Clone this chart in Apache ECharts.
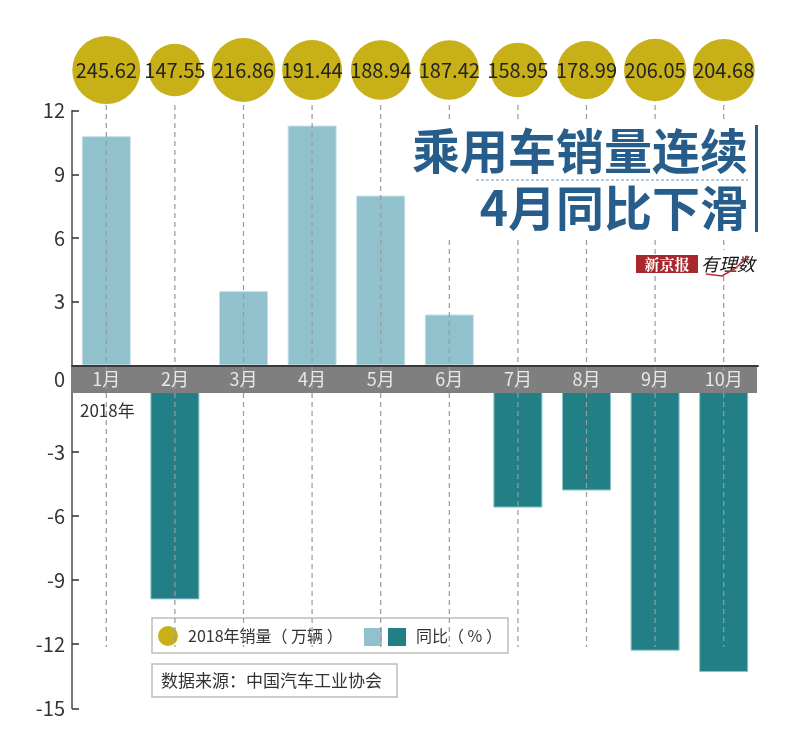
<!DOCTYPE html>
<html>
<head>
<meta charset="utf-8">
<title>乘用车销量连续4月同比下滑</title>
<script src="https://cdn.jsdelivr.net/npm/echarts@6/dist/echarts.min.js"></script>
<style>
  html, body { margin: 0; padding: 0; background: #fff; }
  #myChart { width: 800px; height: 754px; }
</style>
</head>
<body>
<div id="myChart"></div>
<script>
// 月份
var months = ['1月', '2月', '3月', '4月', '5月', '6月', '7月', '8月', '9月', '10月'];
// 2018年销量（万辆）
var sales = [245.62, 147.55, 216.86, 191.44, 188.94, 187.42, 158.95, 178.99, 206.05, 204.68];
// 同比（%）
var yoy = [10.8, -9.9, 3.5, 11.3, 8.0, 2.4, -5.6, -4.8, -12.3, -13.3];
// 刻度
var upTicks = [0, 12, 3];
var downTicks = [-15, 0, 3];

var cnFont = '"Noto Sans CJK SC", "Noto Sans", sans-serif';
var titleColor = '#275d8b';

var upData = yoy.map(function (v) { return v > 0 ? v : '-'; });
var downData = yoy.map(function (v) { return v < 0 ? v : '-'; });

var myChart = echarts.init(document.getElementById('myChart'));

var option = {
  animation: false,
  textStyle: { fontFamily: cnFont },
  grid: [
    { left: 72, right: 42, top: 110.7, height: 254.7 },   // 正值
    { left: 72, right: 42, top: 388, height: 320.3 },     // 负值
    { left: 72, right: 42, top: 30, height: 80 },         // 圆圈
    { left: 72, right: 42, top: 105, height: 542 }        // 虚线
  ],
  xAxis: [
    {
      gridIndex: 0, type: 'category', data: months, z: 10,
      axisLine: { lineStyle: { color: '#3a3a3a', width: 2 } },
      axisTick: { show: false },
      axisLabel: { color: '#e8e8e8', fontSize: 18, margin: 5, fontFamily: cnFont }
    },
    { gridIndex: 1, type: 'category', data: months, show: false },
    { gridIndex: 2, type: 'category', data: months, show: false },
    { gridIndex: 3, type: 'category', data: months, show: false }
  ],
  yAxis: [
    {
      gridIndex: 0, type: 'value', min: upTicks[0], max: upTicks[1], interval: upTicks[2],
      splitLine: { show: false },
      axisLine: { show: true, lineStyle: { color: '#777', width: 2 } },
      axisTick: { show: true, inside: true, length: 7, lineStyle: { color: '#333', width: 1.5 } },
      axisLabel: {
        color: '#333', fontSize: 20, margin: 7,
        formatter: function (v) { return v === 0 ? '' : String(v); }
      }
    },
    {
      gridIndex: 1, type: 'value', min: downTicks[0], max: downTicks[1], interval: downTicks[2],
      splitLine: { show: false },
      axisLine: { show: true, lineStyle: { color: '#777', width: 2 } },
      axisTick: { show: true, inside: true, length: 7, lineStyle: { color: '#333', width: 1.5 } },
      axisLabel: {
        color: '#333', fontSize: 20, margin: 7,
        formatter: function (v) { return v === 0 ? '{z|0}' : String(v); },
        rich: { z: { fontSize: 20, color: '#333', padding: [0, 0, 17, 0] } }
      }
    },
    { gridIndex: 2, type: 'value', min: -1, max: 1, show: false },
    { gridIndex: 3, type: 'value', min: 0, max: 1, show: false }
  ],
  series: [
    {
      name: '同比正', type: 'bar', xAxisIndex: 0, yAxisIndex: 0,
      data: upData, barWidth: 49,
      itemStyle: { color: '#92c1ce', borderColor: '#c6e0e7', borderWidth: 1 }
    },
    {
      name: '同比负', type: 'bar', xAxisIndex: 1, yAxisIndex: 1,
      data: downData, barWidth: 49,
      itemStyle: { color: '#227f85', borderColor: '#8cc3c6', borderWidth: 1 }
    },
    {
      name: '2018年销量（万辆）', type: 'scatter', xAxisIndex: 2, yAxisIndex: 2, z: 8,
      data: sales.map(function (v, i) { return [months[i], 0, v]; }),
      symbolSize: function (d) { return 4.34 * Math.sqrt(d[2]); },
      itemStyle: { color: '#c8b018', opacity: 1 },
      label: {
        show: true, position: 'inside', color: '#222', fontSize: 20,
        fontFamily: cnFont,
        formatter: function (p) { return p.data[2].toFixed(2); }
      }
    },
    {
      name: '虚线', type: 'custom', xAxisIndex: 3, yAxisIndex: 3, z: 6, silent: true,
      data: months.map(function (m, i) { return [i]; }),
      renderItem: function (params, api) {
        var top = api.coord([api.value(0), 1]);
        var bot = api.coord([api.value(0), 0]);
        return {
          type: 'line',
          shape: { x1: top[0], y1: top[1], x2: bot[0], y2: bot[1] },
          style: { stroke: '#9a9a9a', lineWidth: 1.2, lineDash: [5, 4] }
        };
      }
    }
  ],
  graphic: [
    // 0 轴灰条
    { type: 'rect', z: 4, shape: { x: 71, y: 366, width: 686, height: 27 }, style: { fill: '#7f7f7f' } },
    { type: 'text', z: 4, left: 80, top: 402, style: { text: '2018年', fill: '#333', font: '17px ' + cnFont } },
    // 标题
    { type: 'rect', z: 20, shape: { x: 408, y: 121, width: 354, height: 116 }, style: { fill: '#fff' } },
    { type: 'text', z: 21, style: { x: 748, y: 151, text: '乘用车销量连续', textAlign: 'right', textVerticalAlign: 'middle', fill: titleColor, font: 'bold 48px ' + cnFont } },
    { type: 'text', z: 21, style: { x: 748, y: 208, text: '4月同比下滑', textAlign: 'right', textVerticalAlign: 'middle', fill: titleColor, font: 'bold 48px ' + cnFont } },
    { type: 'line', z: 21, shape: { x1: 476, y1: 180, x2: 748, y2: 180 }, style: { stroke: '#6f93b3', lineWidth: 1, lineDash: [3, 2] } },
    { type: 'rect', z: 21, shape: { x: 755, y: 125, width: 3, height: 107 }, style: { fill: titleColor } },
    // 新京报 有理数
    { type: 'rect', z: 21, shape: { x: 636, y: 255, width: 62, height: 18 }, style: { fill: '#a8282d' } },
    { type: 'text', z: 22, style: { x: 667, y: 264, text: '新京报', textAlign: 'center', textVerticalAlign: 'middle', fill: '#fff', font: 'bold 15px "Noto Serif CJK SC", ' + cnFont } },
    { type: 'rect', z: 21, shape: { x: 699, y: 250, width: 60, height: 26 }, style: { fill: '#fff' } },
    { type: 'text', z: 22, style: { x: 701, y: 264, text: '有理数', textVerticalAlign: 'middle', fill: '#111', font: 'italic 18px ' + cnFont } },
    { type: 'polyline', z: 23, shape: { points: [[706, 274], [722, 276], [736, 268], [748, 256]] }, style: { stroke: '#c0282d', lineWidth: 1.5, fill: null } },
    // 图例
    { type: 'rect', z: 3, shape: { x: 152, y: 618, width: 356, height: 35 }, style: { fill: null, stroke: '#bdbdbd', lineWidth: 1.5 } },
    { type: 'circle', z: 3, shape: { cx: 168, cy: 636, r: 10 }, style: { fill: '#c8b018' } },
    { type: 'text', z: 3, style: { x: 188, y: 636, text: '2018年销量（ 万辆 ）', textVerticalAlign: 'middle', fill: '#333', font: '16px ' + cnFont } },
    { type: 'rect', z: 3, shape: { x: 364, y: 628, width: 18, height: 18 }, style: { fill: '#92c1ce' } },
    { type: 'rect', z: 3, shape: { x: 388, y: 628, width: 18, height: 18 }, style: { fill: '#227f85' } },
    { type: 'text', z: 3, style: { x: 416, y: 636, text: '同比（ % ）', textVerticalAlign: 'middle', fill: '#333', font: '16px ' + cnFont } },
    // 数据来源
    { type: 'rect', z: 3, shape: { x: 152, y: 664, width: 245, height: 33 }, style: { fill: '#fff', stroke: '#bdbdbd', lineWidth: 1.5 } },
    { type: 'text', z: 3, style: { x: 161, y: 681, text: '数据来源：中国汽车工业协会', textVerticalAlign: 'middle', fill: '#333', font: '17px ' + cnFont } }
  ]
};

myChart.setOption(option);
</script>
</body>
</html>
